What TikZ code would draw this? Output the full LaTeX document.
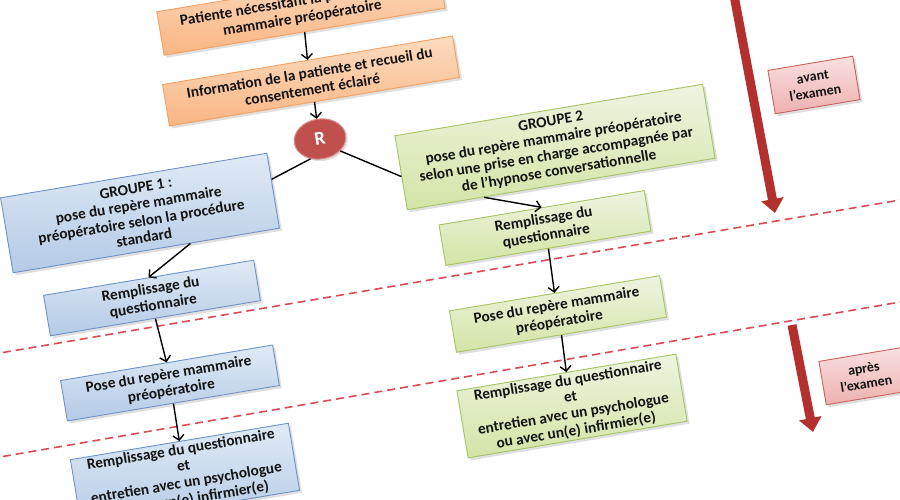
\documentclass[tikz,border=0pt]{standalone}
\usepackage{fontspec}
\setmainfont{Carlito}
\usetikzlibrary{arrows.meta,shapes.geometric,shadows,calc}
\definecolor{orT}{HTML}{FCDCC0}
\definecolor{orB}{HTML}{F9B583}
\definecolor{orD}{HTML}{F3A062}
\definecolor{blT}{HTML}{E0EAF6}
\definecolor{blB}{HTML}{B3CAE6}
\definecolor{blD}{HTML}{6F93C8}
\definecolor{grT}{HTML}{EEF4E0}
\definecolor{grB}{HTML}{D3E4A6}
\definecolor{grD}{HTML}{A5C465}
\definecolor{pkT}{HTML}{F9E0E0}
\definecolor{pkB}{HTML}{EDB1B0}
\definecolor{pkD}{HTML}{C9625F}
\definecolor{rdC}{HTML}{C0504D}
\definecolor{rdA}{HTML}{B3302E}
\definecolor{sepC}{HTML}{DC4A57}
\definecolor{txt}{HTML}{141414}
\begin{document}
\begin{tikzpicture}[x=1pt,y=-1pt,
  boxbase/.style={rectangle,draw,line width=0.9pt,align=center,rotate=9.5,
    font=\fontsize{15.3}{16.8}\selectfont\bfseries,text=txt,inner sep=2pt,
    drop shadow={opacity=0.25,shadow xshift=2.5pt,shadow yshift=-2.5pt}},
  orangebox/.style={boxbase,draw=orD,top color=orT,bottom color=orB},
  bluebox/.style={boxbase,draw=blD,top color=blT,bottom color=blB},
  greenbox/.style={boxbase,draw=grD,top color=grT,bottom color=grB},
  pinkbox/.style={boxbase,draw=pkD,top color=pkT,bottom color=pkB,
    font=\fontsize{14}{16}\selectfont\bfseries},
  rnode/.style={ellipse,draw=pkD!70!white,line width=1pt,fill=rdC,text=white,
    font=\fontsize{19}{20}\selectfont\bfseries,rotate=9.5,
    minimum width=52pt,minimum height=40pt,inner sep=0pt,
    drop shadow={opacity=0.25,shadow xshift=2pt,shadow yshift=-2pt}},
  flow/.style={-{Straight Barb[length=5pt,width=11pt]},line width=1.4pt,black},
  link/.style={line width=1.4pt,black},
  sepline/.style={sepC,line width=1.6pt,dash pattern=on 8pt off 5pt},
  bigarrow/.style={rdA,line width=9pt,-{Triangle[length=14pt,width=22pt]}}
]
\useasboundingbox (0,0) rectangle (900,500);
\clip (0,0) rectangle (900,500);
\fill[white] (0,0) rectangle (900,500);

% separators
\draw[sepline] (-10,354.7) -- (910,198.3);
\draw[sepline] (-10,458.7) -- (910,300.3);

% time arrows
\coordinate (a1s) at (733,-10);
\coordinate (a1e) at (775,213);
\coordinate (a2s) at (792,325);
\coordinate (a2e) at (813,432);
\draw[bigarrow] (a1s) -- (a1e);
\draw[bigarrow] (a2s) -- (a2e);

% nodes
\node[orangebox,minimum width=285pt,minimum height=44pt] (o1) at (301,10)
  {Patiente nécessitant la pose du repère\\mammaire préopératoire};
\node[orangebox,minimum width=294pt,minimum height=42pt] (o2) at (311,81)
  {Information de la patiente et recueil du\\consentement éclairé};
\node[rnode] (R) at (320,139) {R};

\node[bluebox,minimum width=270pt,minimum height=76pt] (g1) at (140,213)
  {GROUPE 1 :\\pose du repère mammaire\\préopératoire selon la procédure\\standard};
\node[bluebox,minimum width=213pt,minimum height=41pt] (r1) at (152,298)
  {Remplissage du\\questionnaire};
\node[bluebox,minimum width=215pt,minimum height=41pt] (p1) at (170,383)
  {Pose du repère mammaire\\préopératoire};
\node[bluebox,minimum width=221pt,minimum height=68pt] (f1) at (185,475)
  {Remplissage du questionnaire\\et\\entretien avec un psychologue\\ou avec un(e) infirmier(e)};

\node[greenbox,minimum width=312pt,minimum height=75pt] (g2) at (555,147)
  {GROUPE 2\\pose du repère mammaire préopératoire\\selon une prise en charge accompagnée par\\de l’hypnose conversationnelle};
\node[greenbox,minimum width=208pt,minimum height=41pt] (r2) at (545,228)
  {Remplissage du\\questionnaire};
\node[greenbox,minimum width=213pt,minimum height=42pt] (p2) at (558,314)
  {Pose du repère mammaire\\préopératoire};
\node[greenbox,minimum width=222pt,minimum height=68pt] (f2) at (572,406)
  {Remplissage du questionnaire\\et\\entretien avec un psychologue\\ou avec un(e) infirmier(e)};

\node[pinkbox,minimum width=86pt,minimum height=44pt] (av) at (814,85)
  {avant\\l’examen};
\node[pinkbox,minimum width=86pt,minimum height=44pt] (ap) at (865,376)
  {après\\l’examen};

% connectors
\draw[flow] (o1.south) -- (o2.north);
\draw[flow] (o2.south) -- (R.north);
\draw[link] (R.235) -- ($(g1.north east)!0.35!(g1.south east)$);
\draw[link] (R.-40) -- ($(g2.north west)!0.55!(g2.south west)$);
\draw[flow] ($(g1.south)!0.33!(g1.south east)$) -- (r1.north);
\draw[flow] (r1.south) -- (p1.north);
\draw[flow] (p1.south) -- (f1.north);
\draw[flow] ($(g2.south)!0.5!(g2.south west)$) -- (r2.north);
\draw[flow] (r2.south) -- (p2.north);
\draw[flow] (p2.south) -- (f2.north);
\end{tikzpicture}
\end{document}
